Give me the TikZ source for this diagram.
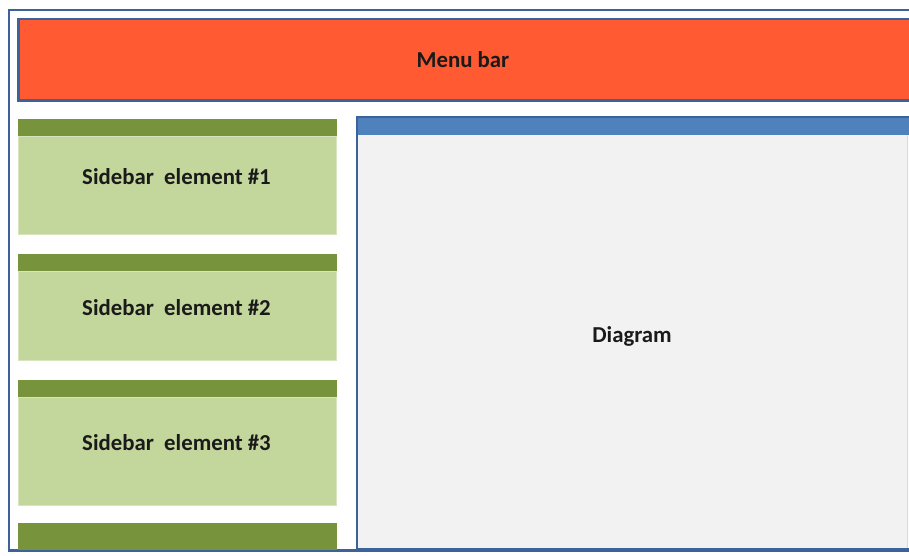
\documentclass[tikz,border=0pt]{standalone}
\usepackage{fontspec}
\setmainfont{Carlito}
\definecolor{frameblue}{HTML}{3C6399}
\definecolor{menuorange}{HTML}{FF5A32}
\definecolor{darkgreen}{HTML}{77933C}
\definecolor{lightgreen}{HTML}{C3D69B}
\definecolor{lightedge}{HTML}{D7E4BD}
\definecolor{headblue}{HTML}{4F81BD}
\definecolor{bodygray}{HTML}{F2F2F2}
\definecolor{txt}{HTML}{1A1A1A}
\tikzset{
  label/.style={font=\fontsize{22.8}{26}\selectfont\bfseries, text=txt, inner sep=0pt},
  sbbar/.style={fill=darkgreen, draw=none},
  sbbody/.style={fill=lightgreen, draw=lightedge, line width=1pt},
}
\begin{document}
\begin{tikzpicture}[x=1pt,y=-1pt]
\useasboundingbox (0,0) rectangle (909,555);
\clip (0,0) rectangle (909,555);
\fill[white] (0,0) rectangle (909,555);
% outer frame
\draw[frameblue, line width=2.5pt] (9,10) rectangle (960,550.5);
% menu bar
\draw[fill=menuorange, draw=frameblue, line width=2.5pt] (18.5,19) rectangle (940,100.5);
\node[label] (menu) at (463,60) {Menu bar};
% sidebar elements
\fill[sbbody] (18.5,136) rectangle (336.5,234);
\fill[sbbar] (18,119) rectangle (337,136);
\node[label] (sb1) at (176.5,177) {Sidebar\ \ element \#1};
\fill[sbbody] (18.5,271) rectangle (336.5,360);
\fill[sbbar] (18,254) rectangle (337,271);
\node[label] (sb2) at (176.5,308) {Sidebar\ \ element \#2};
\fill[sbbody] (18.5,397) rectangle (336.5,505);
\fill[sbbar] (18,380) rectangle (337,397);
\node[label] (sb3) at (176.5,443) {Sidebar\ \ element \#3};
\fill[sbbar] (18,523) rectangle (337,550);
% diagram area
\fill[bodygray] (356,135) rectangle (907,549);
\draw[white!85!black, line width=1pt] (907,135) -- (907,549);
\fill[headblue] (356,117) rectangle (940,135);
\draw[frameblue, line width=2.5pt] (940,117) -- (357,117) -- (357,549.5) -- (940,549.5);
\node[label] (diag) at (632,336) {Diagram};
\end{tikzpicture}
\end{document}
